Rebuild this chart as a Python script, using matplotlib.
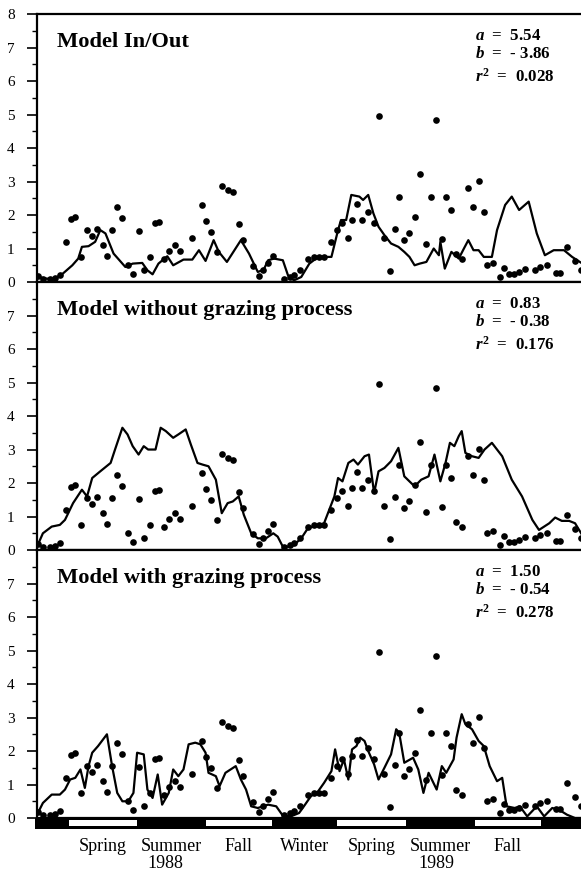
import matplotlib
matplotlib.use("Agg")
import matplotlib.pyplot as plt
import numpy as np

plt.rcParams["font.family"] = "Liberation Serif"
plt.rcParams["mathtext.fontset"] = "custom"
plt.rcParams["mathtext.it"] = "Liberation Serif:italic:bold"
plt.rcParams["mathtext.rm"] = "Liberation Serif:bold"

# days counted from 1 Jan 1988
obs_day = [35, 42, 52, 58, 65, 74, 80, 86, 94, 102, 109, 116, 123, 129, 136, 143, 150, 158, 165, 172,
           179, 187, 194, 200, 207, 214, 221, 228, 244, 258, 264, 270, 278, 285, 293, 300, 308, 314, 327, 335,
           341, 348, 355, 370, 378, 383, 391, 402, 410, 417, 424, 434, 442, 449, 457, 462, 469, 476, 484, 492,
           498, 505, 513, 520, 526, 533, 540, 547, 555, 562, 569, 576, 584, 589, 596, 603, 611, 619, 626, 634,
           641, 646, 653, 663, 668, 675, 682, 689, 697, 711, 717, 727, 739, 745, 754, 765, 773]
obs_val = [0.18, 0.1, 0.1, 0.13, 0.2, 1.19, 1.88, 1.95, 0.76, 1.54, 1.36, 1.59, 1.12, 0.79, 1.54, 2.25, 1.91, 0.52, 0.23, 1.51,
           0.37, 0.74, 1.75, 1.79, 0.69, 0.94, 1.12, 0.94, 1.32, 2.3, 1.83, 1.5, 0.89, 2.88, 2.75, 2.68, 1.74, 1.26, 0.47, 0.17,
           0.35, 0.58, 0.79, 0.1, 0.15, 0.2, 0.37, 0.69, 0.74, 0.74, 0.74, 1.19, 1.54, 1.77, 1.31, 1.84, 2.32, 1.84, 2.1, 1.76,
           4.96, 1.31, 0.34, 1.59, 2.55, 1.26, 1.47, 1.93, 3.23, 1.14, 2.53, 4.84, 1.27, 2.53, 2.16, 0.84, 0.69, 2.8, 2.23, 3.03,
           2.08, 0.5, 0.58, 0.15, 0.42, 0.25, 0.25, 0.3, 0.4, 0.35, 0.45, 0.5, 0.28, 0.28, 1.04, 0.64, 0.37]

# Model In/Out
m1_day = [35, 48, 58, 69, 82, 90, 95, 104, 113, 120, 127, 138, 154, 164, 177, 184, 191, 199, 211, 219,
          233, 245, 254, 263, 274, 281, 292, 311, 322, 334, 342, 348, 356, 368, 375, 383, 393, 404, 416, 434,
          443, 447, 454, 461, 472, 477, 484, 491, 498, 506, 515, 525, 533, 540, 547, 554, 563, 573, 580, 582,
          588, 597, 607, 614, 620, 627, 634, 641, 652, 659, 670, 679, 689, 702, 713, 724, 736, 750, 761, 775]
m1_val = [0.15, 0.1, 0.1, 0.25, 0.5, 0.7, 1.05, 1.07, 1.2, 1.55, 1.45, 0.85, 0.45, 0.55, 0.57, 0.35, 0.23, 0.55, 0.77, 0.5,
          0.67, 0.67, 0.95, 0.63, 1.25, 0.9, 0.6, 1.25, 0.85, 0.3, 0.37, 0.65, 0.7, 0.65, 0.2, 0.05, 0.15, 0.55, 0.75, 0.75,
          1.55, 1.85, 1.85, 2.6, 2.55, 2.45, 2.6, 2.05, 1.65, 1.4, 1.15, 1.05, 0.9, 0.75, 0.5, 0.55, 0.6, 1.0, 0.8, 1.2,
          0.4, 0.9, 0.7, 1.0, 1.25, 0.95, 0.95, 0.75, 0.75, 1.55, 2.3, 2.55, 2.15, 2.4, 1.45, 0.8, 0.95, 0.95, 0.75, 0.55]

# Model without grazing process
m2_day = [34, 42, 54, 65, 72, 83, 95, 102, 109, 120, 134, 140, 150, 157, 164, 172, 179, 185, 195, 202,
          209, 219, 226, 236, 243, 252, 259, 267, 277, 285, 293, 300, 308, 315, 325, 334, 345, 355, 361, 368,
          375, 383, 393, 402, 410, 424, 431, 438, 443, 449, 457, 464, 470, 479, 485, 492, 498, 506, 515, 525,
          533, 547, 556, 566, 574, 582, 589, 595, 601, 607, 611, 616, 625, 634, 642, 652, 666, 679, 693, 707,
          716, 730, 738, 747, 757, 765, 776]
m2_val = [0.1, 0.5, 0.7, 0.75, 0.9, 1.4, 1.8, 1.6, 2.15, 2.35, 2.6, 3.0, 3.65, 3.45, 3.1, 2.85, 3.1, 3.0, 3.0, 3.65,
          3.55, 3.35, 3.45, 3.6, 3.15, 2.6, 2.55, 2.5, 2.1, 1.1, 1.4, 1.45, 1.6, 1.05, 0.5, 0.35, 0.35, 0.5, 0.4, 0.1,
          0.1, 0.15, 0.35, 0.65, 0.7, 0.8, 1.2, 1.6, 2.15, 2.05, 2.6, 2.7, 2.55, 2.8, 2.85, 1.7, 2.35, 2.45, 2.65, 3.05,
          2.2, 1.9, 2.1, 2.2, 2.85, 2.05, 2.6, 3.2, 3.1, 3.4, 3.55, 2.9, 2.8, 2.75, 3.0, 3.2, 2.8, 2.1, 1.6, 0.9,
          0.6, 0.8, 0.97, 0.87, 0.87, 0.8, 0.4]

# Model with grazing process
m3_day = [34, 42, 54, 65, 72, 79, 86, 93, 99, 104, 109, 117, 129, 136, 143, 150, 158, 165, 170, 179,
          184, 191, 198, 204, 213, 219, 226, 233, 240, 249, 256, 263, 267, 277, 282, 290, 304, 311, 318, 325,
          334, 348, 359, 368, 379, 390, 395, 406, 416, 424, 434, 439, 445, 451, 457, 462, 468, 473, 479, 484,
          492, 498, 506, 515, 522, 526, 533, 545, 552, 559, 566, 577, 584, 590, 600, 604, 611, 616, 625, 634,
          641, 649, 659, 666, 672, 683, 690, 700, 713, 723, 734, 743, 754, 765, 775]
m3_val = [0.1, 0.45, 0.7, 0.7, 0.85, 1.15, 1.2, 1.45, 0.9, 1.55, 1.95, 2.15, 2.5, 1.55, 0.75, 0.5, 0.5, 0.75, 1.95, 1.9,
          0.85, 0.6, 1.3, 0.4, 0.75, 1.45, 1.25, 1.45, 2.2, 2.25, 2.2, 1.95, 1.35, 1.25, 0.95, 1.35, 1.55, 1.15, 0.85, 0.35,
          0.3, 0.4, 0.35, 0.07, 0.05, 0.15, 0.3, 0.65, 0.8, 1.05, 1.4, 2.05, 1.4, 1.75, 1.15, 2.05, 2.15, 2.4, 2.3, 2.0,
          1.6, 1.15, 1.5, 1.9, 2.65, 2.55, 1.65, 1.8, 1.45, 0.75, 1.35, 0.85, 1.55, 1.35, 1.75, 2.4, 3.1, 2.8, 2.65, 2.3,
          2.15, 1.55, 1.1, 1.2, 0.35, 0.3, 0.35, 0.05, 0.35, 0.05, 0.3, 0.25, 0.1, 0.0, 0.0]

titles = ["Model In/Out", "Model without grazing process", "Model with grazing process"]
stat_a = ["5.54", "0.83", "1.50"]
stat_b = ["- 3.86", "- 0.38", "- 0.54"]
stat_r2 = ["0.028", "0.176", "0.278"]

# season starts (days from 1 Jan 1988), winter first
season_edges = [34, 80, 173, 266, 356, 445, 538, 632, 721, 776]
season_names = ["", "Spring", "Summer", "Fall", "Winter", "Spring", "Summer", "Fall", ""]
years = ["1988", "1989"]

fig = plt.figure(figsize=(5.81, 8.71), dpi=100)
x0, x1 = 34, 776

models = [(m1_day, m1_val), (m2_day, m2_val), (m3_day, m3_val)]
bottoms = [0.6762, 0.3685, 0.0608]
for i, (bot, (md, mv)) in enumerate(zip(bottoms, models)):
    ax = fig.add_axes([0.0637, bot, 0.94, 0.3077])
    ax.plot(md, mv, color="black", lw=1.6, zorder=2)
    ax.plot(obs_day, obs_val, "o", color="black", ms=4.8, mec="none", zorder=3)
    ax.set_xlim(x0, x1)
    ax.set_ylim(0, 8)
    if i == 0:
        ax.set_yticks(range(0, 9))
    else:
        ax.set_yticks(range(0, 8))
    ax.set_yticks(np.arange(0.5, 8, 1.0), minor=True)
    ax.tick_params(axis="y", which="major", direction="out", length=7, width=1.2, labelsize=11, pad=9)
    ax.tick_params(axis="y", which="minor", direction="out", length=3.5, width=1.0)
    ax.set_xticks([])
    for s in ["left", "bottom", "top"]:
        ax.spines[s].set_linewidth(1.6)
    ax.spines["right"].set_visible(False)
    ax.text(0.037, 0.877, titles[i], transform=ax.transAxes, fontsize=16.2, fontweight="bold")
    ax.text(0.802, 0.903, r"$a$  =  " + stat_a[i], transform=ax.transAxes, fontsize=12.2, fontweight="bold")
    ax.text(0.802, 0.836, r"$b$  =  " + stat_b[i], transform=ax.transAxes, fontsize=12.2, fontweight="bold")
    ax.text(0.802, 0.746, r"$r^2$  =  " + stat_r2[i], transform=ax.transAxes, fontsize=12.2, fontweight="bold")

# season bar below the last panel
bar = fig.add_axes([0.06, 0.0482, 0.94, 0.0126])
bar.set_xlim(x0, x1)
bar.set_ylim(0, 1)
bar.axvspan(x0 - 10, x1 + 10, color="black")
for k in range(len(season_edges) - 1):
    if season_names[k] in ("Spring", "Fall"):
        bar.fill_between([season_edges[k], season_edges[k + 1]], 0.25, 0.8, color="white", lw=0)
    if season_names[k]:
        mid = (season_edges[k] + season_edges[k + 1]) / 2
        bar.text(mid, -1.6, season_names[k], ha="center", va="center", fontsize=13)
bar.text((season_edges[2] + season_edges[3]) / 2 - 8, -3.1, years[0], ha="center", va="center", fontsize=13)
bar.text((season_edges[6] + season_edges[7]) / 2 - 5, -3.1, years[1], ha="center", va="center", fontsize=13)
bar.axis("off")

fig.savefig("out.png", dpi=100)
